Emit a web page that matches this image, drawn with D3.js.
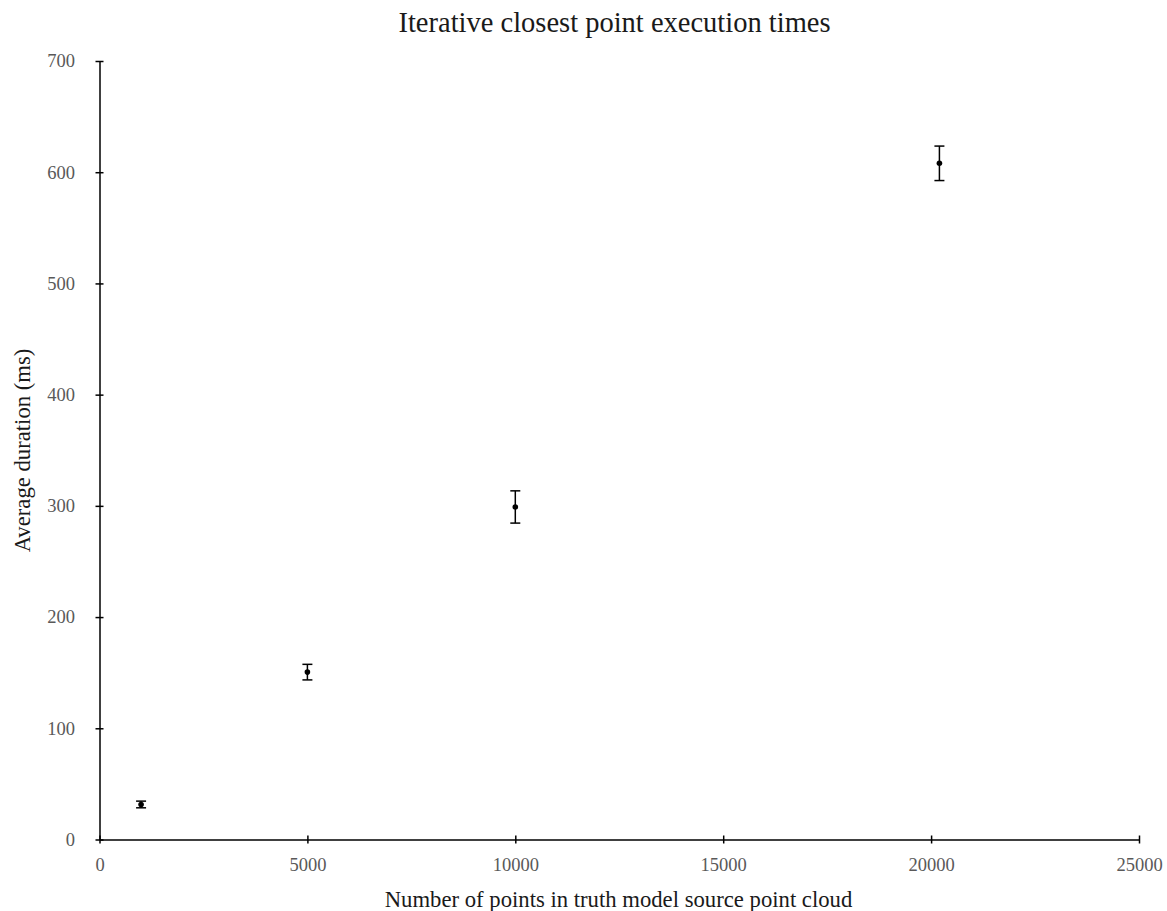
<!DOCTYPE html>
<html>
<head>
<meta charset="utf-8">
<script src="https://d3js.org/d3.v7.min.js"></script>
<style>
  body { margin: 0; background: #fff; }
  svg { font-family: "Liberation Serif", "Times New Roman", serif; }
</style>
</head>
<body>
<div id="chart"></div>
<script>
var pointCounts = [1000, 5000, 10000, 20200];
var avgDuration = [31.5, 150.5, 299, 608];
var errDuration = [3, 7, 14.5, 15.5];
var xTicks = [0, 5000, 10000, 15000, 20000, 25000];
var yTicks = [0, 100, 200, 300, 400, 500, 600, 700];

var width = 1167;
var height = 911;
var plotLeft = 99.5, plotRight = 1139, plotTop = 61, plotBottom = 839.5;

var svg = d3.select('#chart').append('svg')
    .attr('width', width)
    .attr('height', height);

var x = d3.scaleLinear().domain([0, 25000]).range([plotLeft, plotRight]);
var y = d3.scaleLinear().domain([0, 700]).range([plotBottom, plotTop]);

var data = pointCounts.map((d, i) => ({ n: d, v: avgDuration[i], e: errDuration[i] }));

// axes
var xAxis = svg.append('g')
    .attr('transform', `translate(0,${plotBottom})`)
    .call(d3.axisBottom(x).tickValues(xTicks).tickFormat(d3.format('d')).tickSizeOuter(0));
xAxis.selectAll('.tick line').attr('y1', -4).attr('y2', 4);
xAxis.selectAll('.tick text').attr('y', 31).attr('dy', 0);

var yAxis = svg.append('g')
    .attr('transform', `translate(${plotLeft},0)`)
    .call(d3.axisLeft(y).tickValues(yTicks).tickFormat(d3.format('d')).tickSizeOuter(0));
yAxis.selectAll('.tick line').attr('x1', -4).attr('x2', 4);
yAxis.selectAll('.tick text').attr('x', -24.5);

svg.selectAll('.domain').attr('stroke', '#000').attr('stroke-width', 1.5);
svg.selectAll('.tick line').attr('stroke', '#000').attr('stroke-width', 1.5);
svg.selectAll('.tick text')
    .attr('fill', '#595959')
    .style('font-size', '18.5px')
    .style('font-family', '"Liberation Serif", serif');

// error bars
var g = svg.append('g');
g.selectAll('.err').data(data).join('line')
    .attr('x1', d => x(d.n)).attr('x2', d => x(d.n))
    .attr('y1', d => y(d.v + d.e)).attr('y2', d => y(d.v - d.e))
    .attr('stroke', '#000').attr('stroke-width', 1.5);
g.selectAll('.capTop').data(data).join('line')
    .attr('x1', d => x(d.n) - 5).attr('x2', d => x(d.n) + 5)
    .attr('y1', d => y(d.v + d.e)).attr('y2', d => y(d.v + d.e))
    .attr('stroke', '#000').attr('stroke-width', 1.5);
g.selectAll('.capBot').data(data).join('line')
    .attr('x1', d => x(d.n) - 5).attr('x2', d => x(d.n) + 5)
    .attr('y1', d => y(d.v - d.e)).attr('y2', d => y(d.v - d.e))
    .attr('stroke', '#000').attr('stroke-width', 1.5);
g.selectAll('circle').data(data).join('circle')
    .attr('cx', d => x(d.n)).attr('cy', d => y(d.v))
    .attr('r', 2.8).attr('fill', '#000');

// titles
svg.append('text')
    .text('Iterative closest point execution times')
    .attr('x', 614.5)
    .attr('y', 31.5)
    .attr('text-anchor', 'middle')
    .attr('fill', '#1a1a1a')
    .style('font-size', '28.5px');

svg.append('text')
    .text('Number of points in truth model source point cloud')
    .attr('x', 618.5)
    .attr('y', 907)
    .attr('text-anchor', 'middle')
    .attr('fill', '#1a1a1a')
    .style('font-size', '22.7px');

svg.append('text')
    .text('Average duration (ms)')
    .attr('transform', `translate(30,450.5)rotate(-90)`)
    .attr('text-anchor', 'middle')
    .attr('fill', '#1a1a1a')
    .style('font-size', '22.7px');
</script>
</body>
</html>
